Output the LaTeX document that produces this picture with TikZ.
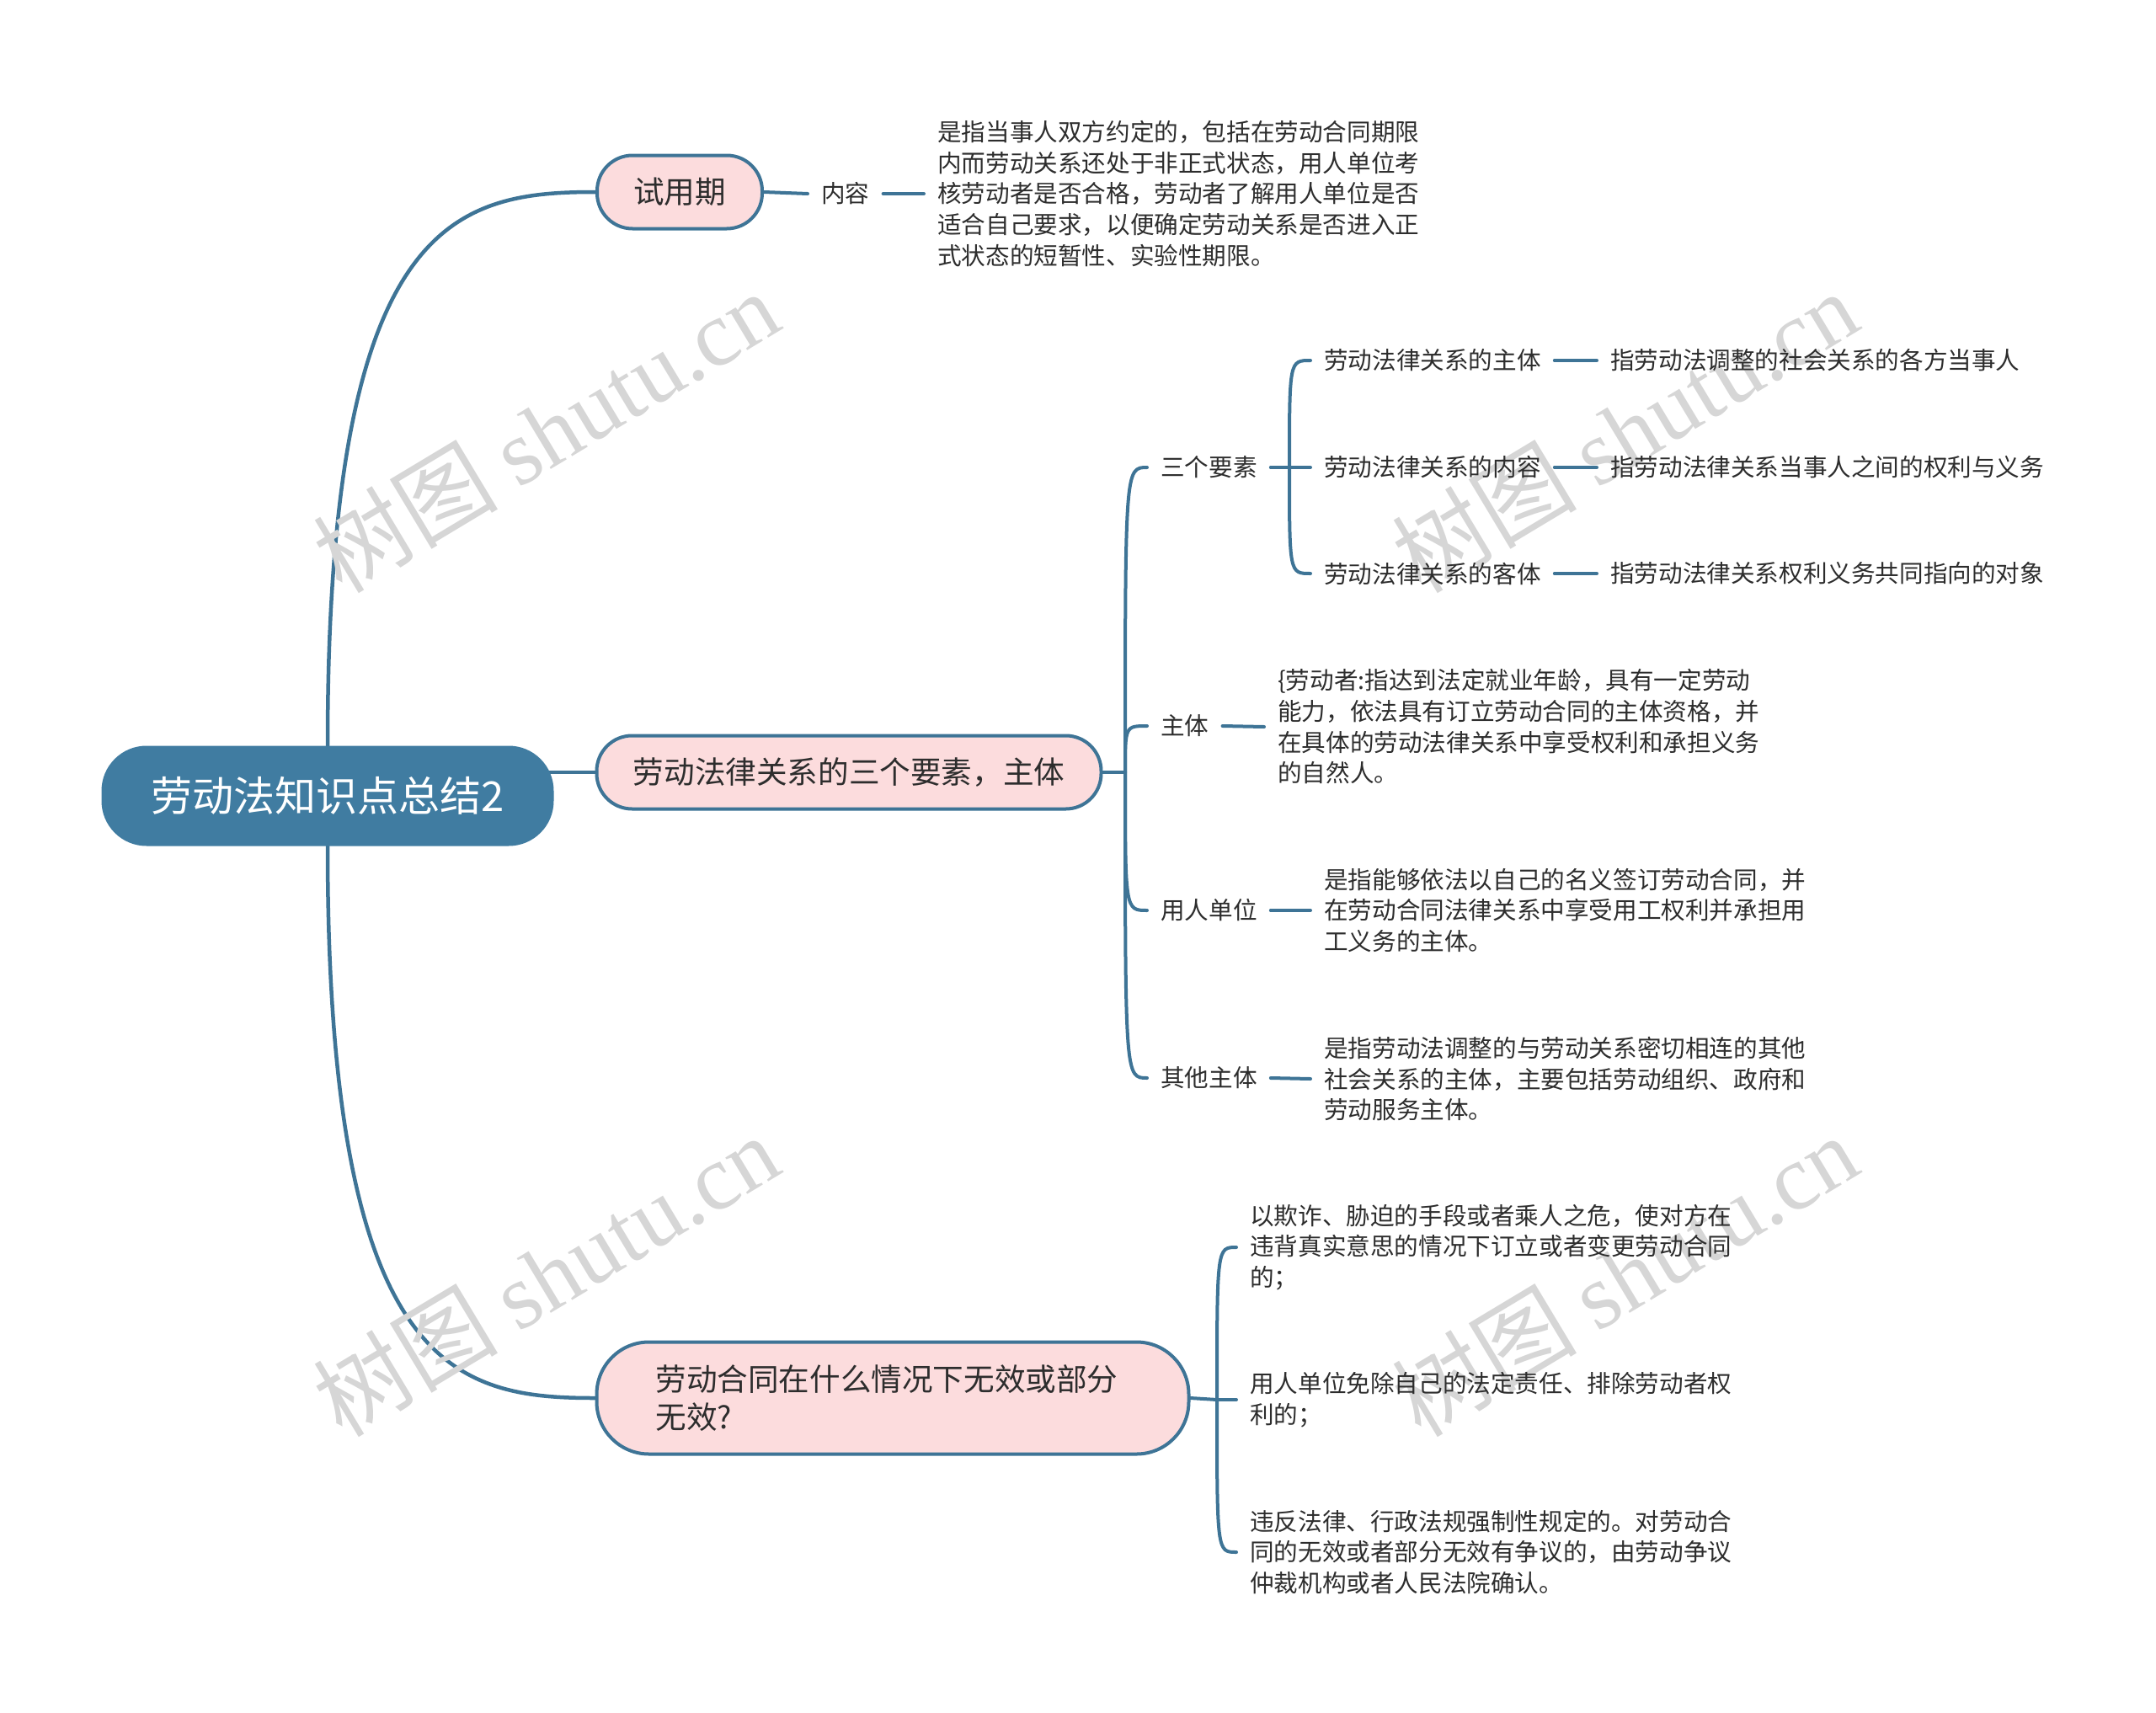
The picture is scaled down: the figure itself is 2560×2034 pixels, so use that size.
\documentclass[tikz,border=0pt]{standalone}
\usepackage{fontspec}
\setmainfont{Noto Sans CJK SC}
\newfontfamily\wmlatin{Liberation Serif}
\usetikzlibrary{backgrounds}
\definecolor{lineblue}{RGB}{62,116,150}
\definecolor{rootblue}{RGB}{64,124,161}
\definecolor{pinkfill}{RGB}{252,220,221}
\definecolor{txt}{RGB}{45,45,45}
\definecolor{wmgray}{RGB}{214,214,214}
\tikzset{
  conn/.style={draw=lineblue, line width=4pt, line cap=round},
  mainconn/.style={draw=lineblue, line width=4.5pt, line cap=round},
  rootnode/.style={fill=rootblue, draw=rootblue, line width=3pt, rounded corners=52pt,
    minimum width=534pt, minimum height=116pt, text=white, inner sep=0pt,
    font=\fontsize{49}{57}\selectfont},
  branchnode/.style={fill=pinkfill, draw=lineblue, line width=4pt, text=txt,
    inner sep=0pt, font=\fontsize{36.6}{45}\selectfont},
  leaf/.style={text=txt, font=\fontsize{28.6}{36.7}\selectfont, inner xsep=16pt,
    inner ysep=2pt, anchor=west, align=left},
  wm/.style={text=wmgray, font=\fontsize{110}{120}\selectfont, rotate=31, inner sep=0pt}
}
\begin{document}
\begin{tikzpicture}[x=1pt,y=-1pt]
\useasboundingbox (0,0) rectangle (2560,2034);

% watermarks
\node[wm] (wm1) at (648,512) {树图 {\wmlatin shutu.cn}};
\node[wm] (wm2) at (1929,512) {树图 {\wmlatin shutu.cn}};
\node[wm] (wm3) at (648,1514) {树图 {\wmlatin shutu.cn}};
\node[wm] (wm4) at (1929,1514) {树图 {\wmlatin shutu.cn}};

% root and branches
\node[rootnode] (root) at (389,945) {劳动法知识点总结2};
\node[branchnode, rounded corners=42pt, minimum width=196pt, minimum height=87pt] (b1) at (807,228) {试用期};
\node[branchnode, rounded corners=42pt, minimum width=599pt, minimum height=87pt] (b2) at (1008,917) {劳动法律关系的三个要素，主体};
\node[branchnode, rounded corners=62pt, text width=563pt, inner xsep=70pt, minimum height=133pt, align=left] (b3) at (1060,1660) {劳动合同在什么情况下无效或部分\\无效?};

% branch 1
\node[leaf] (nei) at (959,230) {内容};
\node[leaf] (p1) at (1097,230) {是指当事人双方约定的，包括在劳动合同期限\\内而劳动关系还处于非正式状态，用人单位考\\核劳动者是否合格，劳动者了解用人单位是否\\适合自己要求，以便确定劳动关系是否进入正\\式状态的短暂性、实验性期限。};

% branch 2
\node[leaf] (sgys) at (1362,555) {三个要素};
\node[leaf] (s1) at (1556,428) {劳动法律关系的主体};
\node[leaf] (s2) at (1556,555) {劳动法律关系的内容};
\node[leaf] (s3) at (1556,681) {劳动法律关系的客体};
\node[leaf] (d1) at (1896,428) {指劳动法调整的社会关系的各方当事人};
\node[leaf] (d2) at (1896,555) {指劳动法律关系当事人之间的权利与义务};
\node[leaf] (d3) at (1896,681) {指劳动法律关系权利义务共同指向的对象};

\node[leaf] (zt) at (1362,862) {主体};
\node[leaf] (ztp) at (1501,863) {\{劳动者:指达到法定就业年龄，具有一定劳动\\能力，依法具有订立劳动合同的主体资格，并\\在具体的劳动法律关系中享受权利和承担义务\\的自然人。};

\node[leaf] (yrdw) at (1362,1081) {用人单位};
\node[leaf] (yrdwp) at (1556,1081) {是指能够依法以自己的名义签订劳动合同，并\\在劳动合同法律关系中享受用工权利并承担用\\工义务的主体。};

\node[leaf] (qtzt) at (1362,1280) {其他主体};
\node[leaf] (qtztp) at (1556,1281) {是指劳动法调整的与劳动关系密切相连的其他\\社会关系的主体，主要包括劳动组织、政府和\\劳动服务主体。};

% branch 3
\node[leaf] (c1) at (1468,1481) {以欺诈、胁迫的手段或者乘人之危，使对方在\\违背真实意思的情况下订立或者变更劳动合同\\的；};
\node[leaf] (c2) at (1468,1662) {用人单位免除自己的法定责任、排除劳动者权\\利的；};
\node[leaf] (c3) at (1468,1843) {违反法律、行政法规强制性规定的。对劳动合\\同的无效或者部分无效有争议的，由劳动争议\\仲裁机构或者人民法院确认。};

\coordinate (j2) at (1336,917);
\coordinate (j3) at (1531,555);
\coordinate (j4) at (1445,1662);

\begin{scope}[on background layer]
\fill[white] (0,0) rectangle (2560,2034);
% main connectors
\draw[mainconn] (root.north) .. controls (389,261) and (539,228) .. (b1.west);
\draw[mainconn] (root.south) .. controls (389,1627) and (539,1660) .. (b3.west);
\draw[mainconn] (root.center |- b2.west) -- (b2.west);
% branch 1
\draw[conn] (b1.east) -- (nei.west);
\draw[conn] (nei.east) -- (p1.west);
% branch 2
\draw[conn] (b2.east) -- (j2);
\foreach \c in {sgys,zt,yrdw,qtzt}{
  \draw[conn] (j2) .. controls (j2 |- \c.west) and (j2 |- \c.west) .. (\c.west);
}
\draw[conn] (sgys.east) -- (j3);
\foreach \c in {s1,s2,s3}{
  \draw[conn] (j3) .. controls (j3 |- \c.west) and (j3 |- \c.west) .. (\c.west);
}
\draw[conn] (s1.east) -- (d1.west);
\draw[conn] (s2.east) -- (d2.west);
\draw[conn] (s3.east) -- (d3.west);
\draw[conn] (zt.east) -- (ztp.west);
\draw[conn] (yrdw.east) -- (yrdwp.west);
\draw[conn] (qtzt.east) -- (qtztp.west);
% branch 3
\draw[conn] (b3.east) -- (j4);
\foreach \c in {c1,c2,c3}{
  \draw[conn] (j4) .. controls (j4 |- \c.west) and (j4 |- \c.west) .. (\c.west);
}
\end{scope}
\end{tikzpicture}
\end{document}
